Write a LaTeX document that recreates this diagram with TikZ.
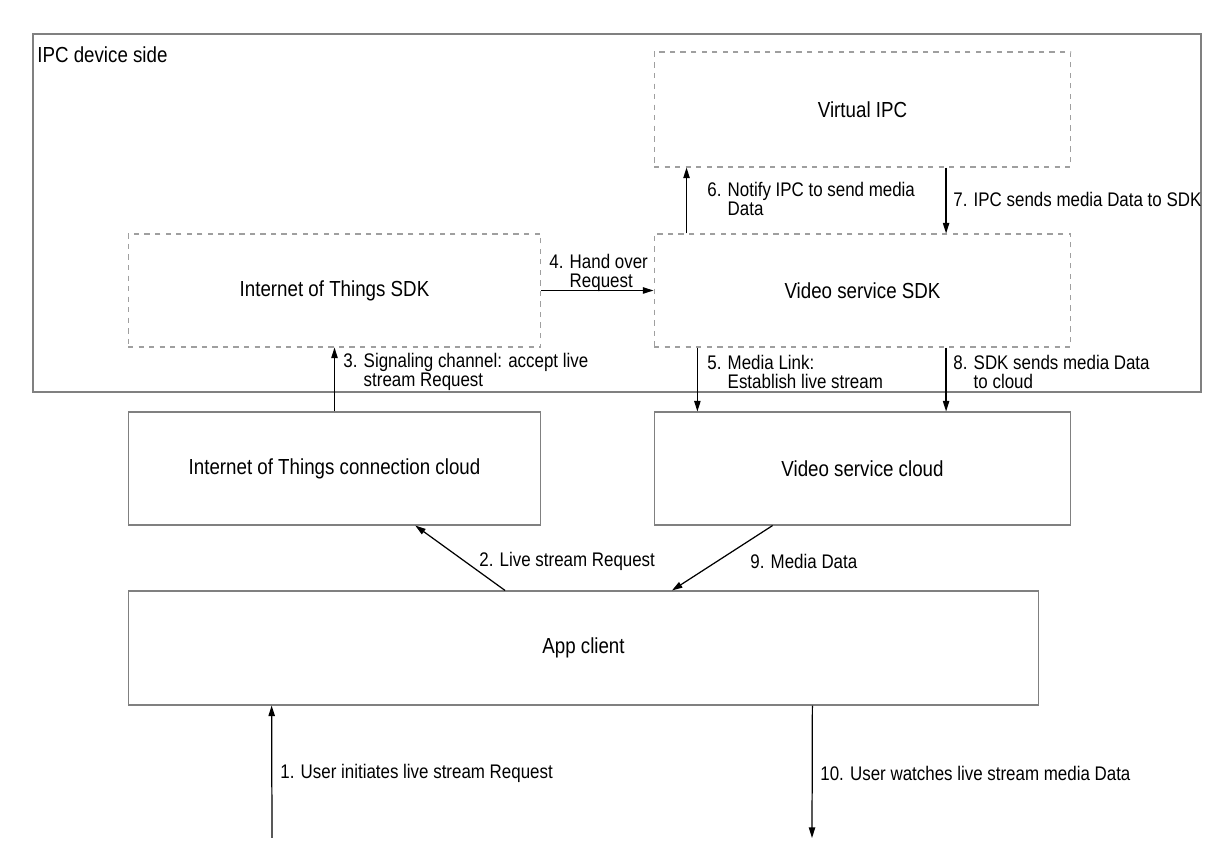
\documentclass[tikz,border=0pt]{standalone}
\usepackage{fontspec}
\setmainfont{Liberation Sans}[FakeStretch=0.86]
\usepackage{tikz}
\usetikzlibrary{positioning,arrows.meta,calc}

\begin{document}
\begin{tikzpicture}[
			x=0.02cm,y=-0.02cm,
			box/.style={
				draw=gray,
				line width=0.6pt,
				minimum width=8.3cm,
				minimum height=2.26cm,
				align=center,
				font=\fontsize{12.4}{14}\selectfont
			},
			dbox/.style={box,draw=gray!75,dashed},
			arrow/.style={-{Triangle[length=6pt,width=3.6pt]},line width=0.7pt},
			lbl/.style={align=left,inner sep=0pt,font=\fontsize{11.2}{10.4}\selectfont}
			]
			
			\useasboundingbox[fill=white] (0,0) rectangle (1232,864);
			
			% device side frame
			\draw[gray,line width=0.6pt] (33,34) rectangle (1201,392);
			\node[lbl,anchor=west,font=\fontsize{12.4}{14}\selectfont] (side) at (37,55) {IPC device side};
			
			\node[dbox,minimum width=8.34cm,minimum height=2.3cm] (vipc) at (862.5,109.5) {Virtual IPC};
			\node[dbox,minimum width=8.26cm] (iotsdk) at (334.5,290.5) {Internet of Things SDK};
			\node[dbox,minimum width=8.34cm] (vsdk) at (862.5,290.5) {Video service SDK};
			
			\node[box,minimum width=8.26cm] (iotcloud) at (334.5,468.5) {Internet of Things connection cloud};
			\node[box,minimum width=8.34cm] (vcloud) at (862.5,468.5) {Video service cloud};
			\node[box,minimum width=18.22cm,minimum height=2.28cm] (app) at (583.5,648) {App client};
			
			\coordinate (user) at (272,838);
			\coordinate (watch) at (812,838);
			
			% numbered steps
			\draw[arrow] (user) -- ($(app.south west)!0.158!(app.south east)$);
			\draw[arrow] ($(app.north west)!0.414!(app.north east)$) -- ($(iotcloud.south west)!0.695!(iotcloud.south east)$);
			\draw[arrow] (iotcloud.north) -- (iotsdk.south);
			\draw[arrow] (iotsdk.east) -- (vsdk.west);
			\draw[arrow] ($(vsdk.south west)!0.105!(vsdk.south east)$) -- ($(vcloud.north west)!0.105!(vcloud.north east)$);
			\draw[arrow] ($(vsdk.north west)!0.079!(vsdk.north east)$) -- ($(vipc.south west)!0.079!(vipc.south east)$);
			\draw[arrow] ($(vipc.south west)!0.7!(vipc.south east)$) -- ($(vsdk.north west)!0.7!(vsdk.north east)$);
			\draw[arrow] ($(vsdk.south west)!0.7!(vsdk.south east)$) -- ($(vcloud.north west)!0.7!(vcloud.north east)$);
			\draw[arrow] ($(vcloud.south west)!0.285!(vcloud.south east)$) -- ($(app.north west)!0.597!(app.north east)$);
			\draw[arrow] ($(app.south west)!0.751!(app.south east)$) -- (watch);
			
			\node[lbl,anchor=west] (l1) at (280,773) {1. User initiates live stream Request};
			\node[lbl,anchor=west] (l2) at (479,561) {2. Live stream Request};
			\node[lbl,anchor=west] (l3) at (343,372) {3. Signaling channel: accept live\\\phantom{3. }stream Request};
			\node[lbl,anchor=west] (l4) at (549,273) {4. Hand over\\\phantom{4. }Request};
			\node[lbl,anchor=west] (l5) at (707,372) {5. Media Link:\\\phantom{5. }Establish live stream};
			\node[lbl,anchor=west] (l6) at (707,199) {6. Notify IPC to send media\\\phantom{6. }Data};
			\node[lbl,anchor=west] (l7) at (953,199) {7. IPC sends media Data to SDK};
			\node[lbl,anchor=west] (l8) at (953,372) {8. SDK sends media Data\\\phantom{8. }to cloud};
			\node[lbl,anchor=west] (l9) at (750,561) {9. Media Data};
			\node[lbl,anchor=west] (l10) at (820,773) {10. User watches live stream media Data};
			
		\end{tikzpicture}
\end{document}
